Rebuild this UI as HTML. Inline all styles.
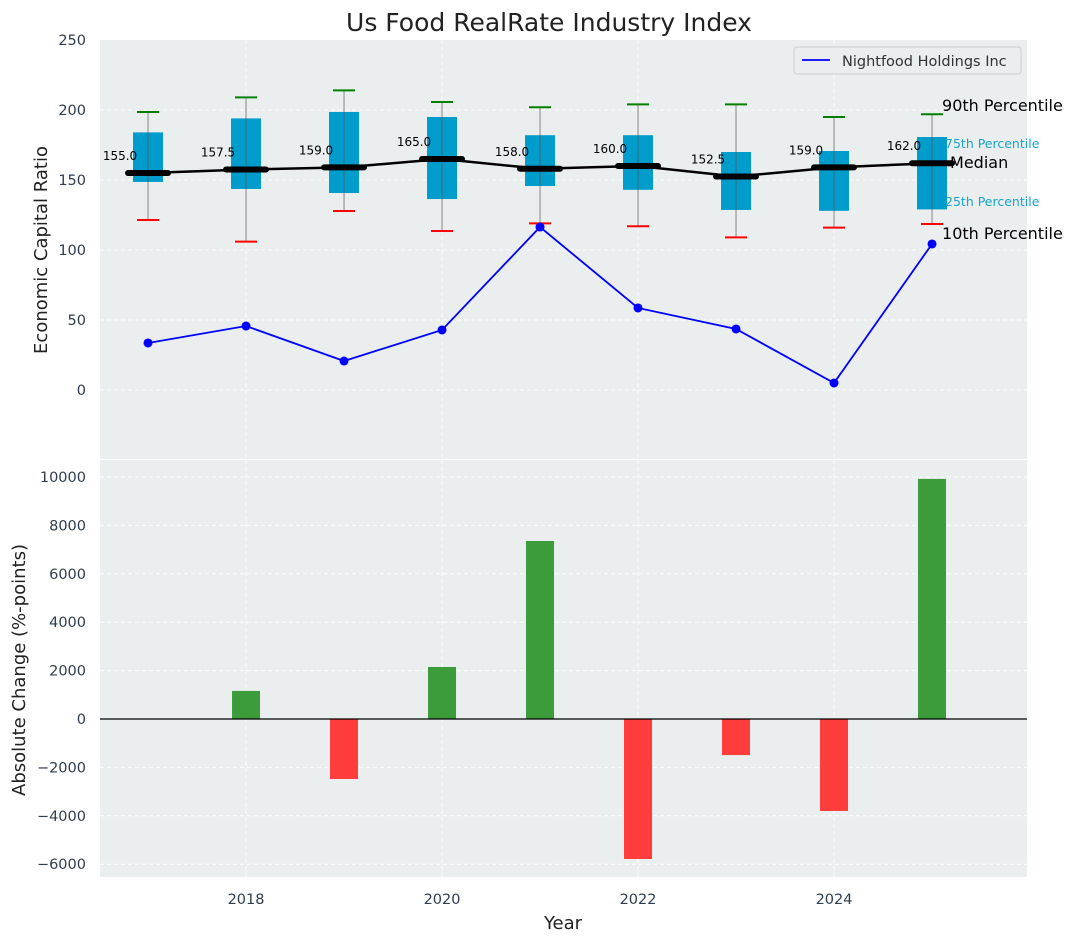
<!DOCTYPE html>
<html><head><meta charset="utf-8"><style>
body{margin:0;background:#fff;}
svg{font-family:"DejaVu Sans","Liberation Sans",sans-serif;}
</style></head><body>
<svg id="c" width="1077" height="942" xmlns="http://www.w3.org/2000/svg"></svg>
<script>
const years=[2017,2018,2019,2020,2021,2022,2023,2024,2025];
const p10=[121.4,106,127.9,113.6,119,117,109,116,118.6];
const q1=[148.6,143.6,140.7,136.4,145.7,143,128.6,128,129];
const med=[155,157.5,159,165,158,160,152.5,159,162];
const q3=[184,194,198.6,195,182,182,170,170.7,180.7];
const p90=[198.6,209,214,205.7,202,204,204,195,197];
const company=[33.6,45.7,20.7,42.9,116.4,58.6,43.6,5,104.3];
const changes=[null,1160,-2480,2150,7355,-5785,-1490,-3800,9920];
const topTicks=[0,50,100,150,200,250];
const botTicks=[-6000,-4000,-2000,0,2000,4000,6000,8000,10000];
const xTicks=[2018,2020,2022,2024];

const NS="http://www.w3.org/2000/svg";
const svg=document.getElementById('c');
function el(t,a,txt){const e=document.createElementNS(NS,t);for(const k in a)e.setAttribute(k,a[k]);if(txt!=null)e.textContent=txt;svg.appendChild(e);return e;}
const L=100,R=1027;
const x=v=>L+(v-2016.51)*98;
const yT=v=>390-v*1.4;
const yB=v=>719-v*0.0242;

let e;
e=el('rect',{x:L,y:40,width:R-L,height:419,fill:'#eaeeee'});


e=el('rect',{x:L,y:460,width:R-L,height:417,fill:'#eaeeee'});



e=el('text',{x:549,y:31,'font-size':25,'text-anchor':'middle',fill:'#222'},'Us Food RealRate Industry Index');



topTicks.forEach(t=>{
 const y=yT(t);
 if(t<250){e=el('line',{x1:L,x2:R,y1:y,y2:y,stroke:'#fff','stroke-dasharray':'4,3','stroke-width':1});}
 e=el('text',{x:L-14,y:y+5,'font-size':14.5,'text-anchor':'end',fill:'#2e3d4f'},t);
 
 
});
botTicks.forEach(t=>{
 const y=yB(t);
 el('line',{x1:L,x2:R,y1:y,y2:y,stroke:'#fff','stroke-dasharray':'4,3','stroke-width':1});
 e=el('text',{x:L-14,y:y+5,'font-size':14.5,'text-anchor':'end',fill:'#2e3d4f'},t<0?'\u2212'+(-t):t);
 
 
});
xTicks.forEach(t=>{
 el('line',{x1:x(t),x2:x(t),y1:40,y2:459,stroke:'#fff','stroke-dasharray':'4,3'});
 el('line',{x1:x(t),x2:x(t),y1:460,y2:877,stroke:'#fff','stroke-dasharray':'4,3'});
 e=el('text',{x:x(t),y:904,'font-size':14.5,'text-anchor':'middle',fill:'#2e3d4f'},t);
 
 
});

years.forEach((yr,i)=>{
 const cx=x(yr);
 e=el('line',{x1:cx,x2:cx,y1:yT(p90[i]),y2:yT(p10[i]),stroke:'#888','stroke-width':1});
 
 
 e=el('rect',{x:cx-15,y:yT(q3[i]),width:30,height:yT(q1[i])-yT(q3[i]),fill:'#009ccc'});
 
 
 el('line',{x1:cx,x2:cx,y1:yT(q3[i]),y2:yT(q1[i]),stroke:'#555','stroke-width':1,opacity:0.7});
 e=el('line',{x1:cx-11,x2:cx+11,y1:yT(p90[i]),y2:yT(p90[i]),stroke:'green','stroke-width':2});
 
 
 e=el('line',{x1:cx-11,x2:cx+11,y1:yT(p10[i]),y2:yT(p10[i]),stroke:'red','stroke-width':2});
 
 
});
e=el('polyline',{points:years.map((yr,i)=>x(yr)+','+yT(med[i])).join(' '),fill:'none',stroke:'#000','stroke-width':2.5});


years.forEach((yr,i)=>{
 const cx=x(yr);
 e=el('line',{x1:cx-20,x2:cx+20,y1:yT(med[i]),y2:yT(med[i]),stroke:'#000','stroke-width':6,'stroke-linecap':'round'});
 
 
 e=el('text',{x:cx-28,y:yT(med[i])-13,'font-size':12,'text-anchor':'middle',fill:'#000'},med[i].toFixed(1));
 
 
});
e=el('polyline',{points:years.map((yr,i)=>x(yr)+','+yT(company[i])).join(' '),fill:'none',stroke:'#0000ff','stroke-width':1.8});


years.forEach((yr,i)=>{
 e=el('circle',{cx:x(yr),cy:yT(company[i]),r:4.5,fill:'#0000ff'});
 
 
});
const ax=x(years[years.length-1]);
[['90th Percentile',16,'#000',10,111],['75th Percentile',12.5,'#1aa3cc',13,148],['Median',16,'#000',18,168],['25th Percentile',12.5,'#1aa3cc',13,206],['10th Percentile',16,'#000',10,239]].forEach(a=>{
 e=el('text',{x:ax+a[3],y:a[4],'font-size':a[1],fill:a[2]},a[0]);
 
 
});
e=el('rect',{x:794,y:47,width:227,height:27,rx:3,fill:'#eaeeee',stroke:'#ccc'});


el('line',{x1:802,x2:830,y1:60,y2:60,stroke:'#0000ff','stroke-width':1.8});
e=el('text',{x:842,y:66,'font-size':14.5,fill:'#333'},'Nightfood Holdings Inc');



changes.forEach((v,i)=>{
 if(v==null)return;
 const cx=x(years[i]);
 const y0=yB(0),y1=yB(v);
 e=el('rect',{x:cx-14,y:Math.min(y0,y1),width:28,height:Math.abs(y1-y0),fill:v>=0?'#3c9c3c':'#ff3c3c'});
 
 
});
el('line',{x1:L,x2:R,y1:yB(0),y2:yB(0),stroke:'#000','stroke-width':1.2});

e=el('text',{x:0,y:0,'font-size':18,'text-anchor':'middle',fill:'#222',transform:'translate(47,250) rotate(-90)'},'Economic Capital Ratio');


e=el('text',{x:0,y:0,'font-size':18,'text-anchor':'middle',fill:'#222',transform:'translate(25,670) rotate(-90)'},'Absolute Change (%-points)');


e=el('text',{x:563,y:929,'font-size':18,'text-anchor':'middle',fill:'#222'},'Year');


</script>
</body></html>
